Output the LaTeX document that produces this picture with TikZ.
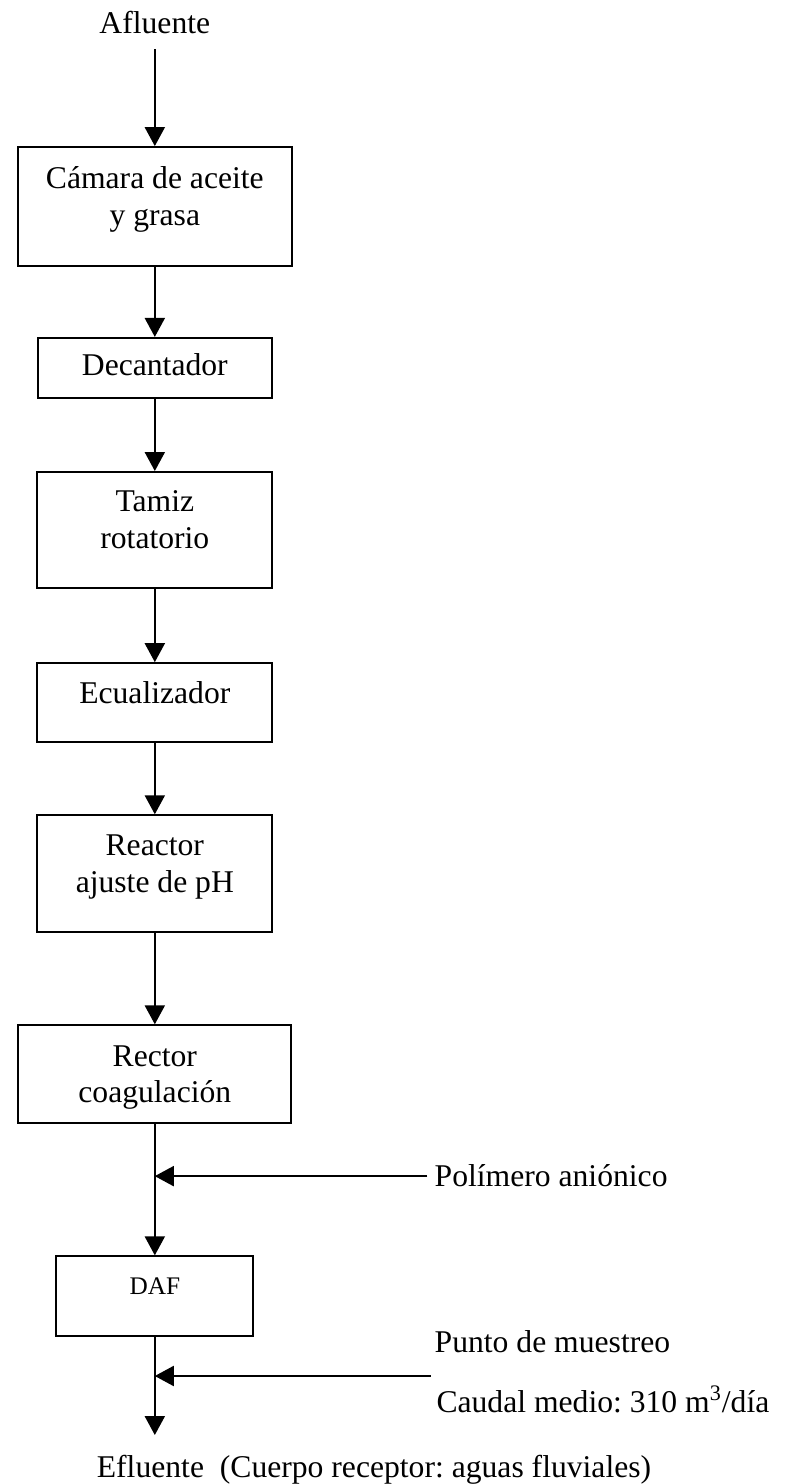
\documentclass[tikz,border=0pt]{standalone}
\usepackage{fontspec}
\setmainfont{Liberation Serif}
\usetikzlibrary{arrows.meta}
\frenchspacing

\begin{document}
\begin{tikzpicture}[
  box/.style={draw, line width=0.9pt, align=center, minimum width=3.92cm,
    text depth=0.35cm, font=\fontsize{15}{17.5}\selectfont},
  flow/.style={line width=0.9pt, -{Triangle[width=9.5pt,length=9pt]}},
  txt/.style={font=\fontsize{15}{17.5}\selectfont}
]
\useasboundingbox (0,0) rectangle (13.1,-24.73);

% Inlet
\node[txt, anchor=base] (afl) at (2.58,-0.55) {Afluente};

% Treatment units
\node[box, minimum width=4.57cm, minimum height=1.98cm] (cam) at (2.58,-3.44) {Cámara de aceite\\y grasa};
\node[box, minimum width=3.9cm, minimum height=1.0cm, text depth=0.12cm] (dec) at (2.58,-6.13) {Decantador};
\node[box, minimum height=1.93cm] (tam) at (2.58,-8.83) {Tamiz\\rotatorio};
\node[box, minimum height=1.32cm] (ecu) at (2.58,-11.71) {Ecualizador};
\node[box, minimum height=1.95cm] (rph) at (2.58,-14.56) {Reactor\\ajuste de pH};
\node[box, minimum width=4.55cm, minimum height=1.63cm, text depth=0cm] (coa) at (2.58,-17.9) {Rector\\coagulación};
\node[box, minimum width=3.28cm, minimum height=1.33cm, font=\fontsize{12}{14}\selectfont] (daf) at (2.58,-21.6) {DAF};

% Side streams and outlet
\node[txt, anchor=base west] (pol) at (7.12,-19.78) {Polímero aniónico};
\node[txt, anchor=base west] (pto) at (7.12,-22.53) {Punto de muestreo};
\node[txt, anchor=base west] (cau) at (7.15,-23.53) {Caudal medio: 310 m\textsuperscript{3}/día};
\coordinate (mue) at (7.18,-22.93);
\node[txt, anchor=base west] (efl) at (1.49,-24.62) {Efluente\ \ (Cuerpo receptor: aguas fluviales)};

% Flow arrows
\draw[flow, shorten <=4pt] (afl) -- (cam);
\draw[flow] (cam) -- (dec);
\draw[flow] (dec) -- (tam);
\draw[flow] (tam) -- (ecu);
\draw[flow] (ecu) -- (rph);
\draw[flow] (rph) -- (coa);
\draw[flow] (coa) -- (daf);
\draw[flow] (pol.west) -- (pol.west -| coa.south);
\draw[flow, shorten >=6pt] (daf) -- (daf.south |- efl.north);
\draw[flow] (mue) -- (mue -| daf.south);
\end{tikzpicture}
\end{document}
